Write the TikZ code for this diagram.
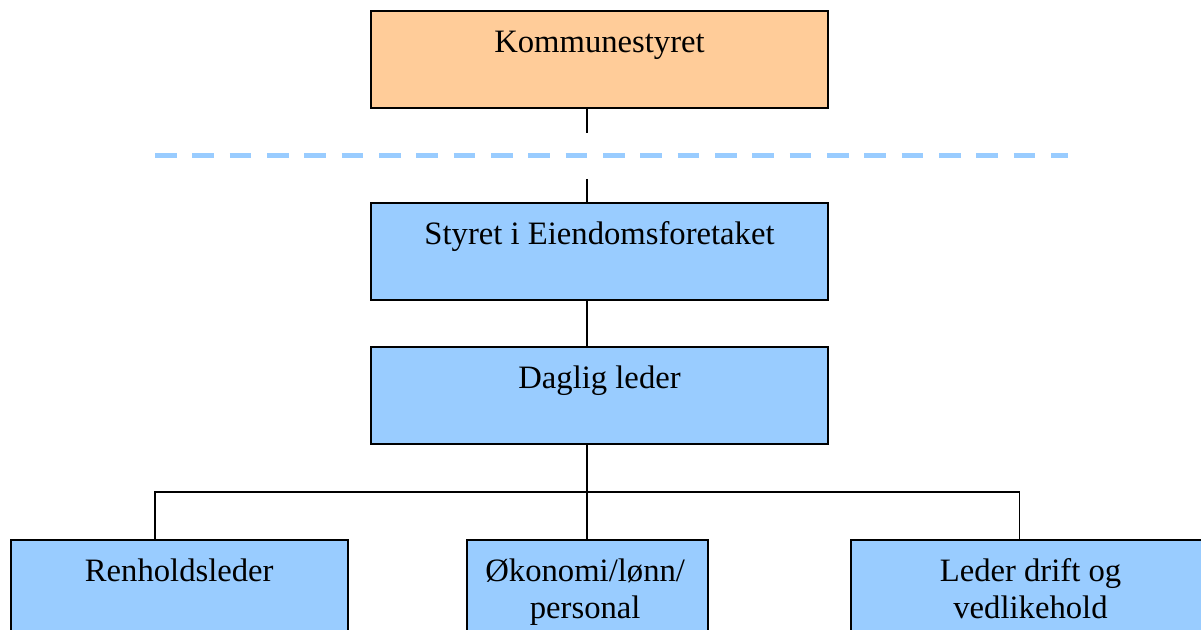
\documentclass[tikz,border=0pt]{standalone}
\usepackage{fontspec}
\setmainfont{Liberation Serif}
\usetikzlibrary{calc}
\definecolor{boxorange}{HTML}{FFCC99}
\definecolor{boxblue}{HTML}{99CCFF}
\begin{document}
\begin{tikzpicture}[x=0.75pt,y=-0.75pt,
  orgbox/.style={draw=black, line width=1.5pt, inner sep=0pt, outer sep=0pt,
    minimum height=72.5pt},
  toporg/.style={orgbox, fill=boxorange},
  unitbox/.style={orgbox, fill=boxblue},
  boxtext/.style={anchor=base, inner sep=0pt, align=center,
    font=\fontsize{24.5pt}{27.75pt}\selectfont},
  link/.style={draw=black, line width=0.9pt},
  divider/.style={draw=boxblue, line width=3.75pt, dash pattern=on 16.3pt off 11.7pt}
]
\useasboundingbox (0,0) rectangle (1201,630);

% boxes
\node[toporg,  minimum width=342.75pt] (k) at (599.5,59.75) {};
\node[unitbox, minimum width=342.75pt] (s) at (599.5,251.75) {};
\node[unitbox, minimum width=342.75pt] (d) at (599.5,395.75) {};
\node[unitbox, minimum width=252.4pt]  (a) at (179.25,588.5) {};
\node[unitbox, minimum width=180.75pt] (b) at (587.2,588.5) {};
\node[unitbox, minimum width=269.25pt] (c) at (1030.5,588.5) {};

% connector points
\coordinate (trunk) at (587,0);
\coordinate (gapA) at (587,133);
\coordinate (gapB) at (587,179);
\coordinate (dl) at (155,156);
\coordinate (dr) at (1068,156);
\coordinate (ja) at (155,492);
\coordinate (jc) at (1019.5,492);

% dashed boundary line
\draw[divider] (dl) -- (dr);

% connectors
\draw[link] (k.south -| trunk) -- (gapA);
\draw[link] (gapB) -- (s.north -| trunk);
\draw[link] (s.south -| trunk) -- (d.north -| trunk);
\draw[link] (d.south -| trunk) -- (b.north -| trunk);
\draw[link] (a.north -| ja) -- (ja) -- (jc) -- (c.north -| jc);

% labels, set near the top of each box (two-line labels sit on their last line)
\node[boxtext] (kt) at ($(k.north)+(0,41)$) {Kommunestyret};
\node[boxtext] (st) at ($(s.north)+(0,41)$) {Styret i Eiendomsforetaket};
\node[boxtext] (dt) at ($(d.north)+(0,41)$) {Daglig leder};
\node[boxtext] (at) at ($(a.north)+(0,41)$) {Renholdsleder};
\node[boxtext] (bt) at ($(b.north)+(-2,78)$) {Økonomi/lønn/\\personal};
\node[boxtext] (ct) at ($(c.north)+(0,78)$) {Leder drift og\\vedlikehold};
\end{tikzpicture}
\end{document}
